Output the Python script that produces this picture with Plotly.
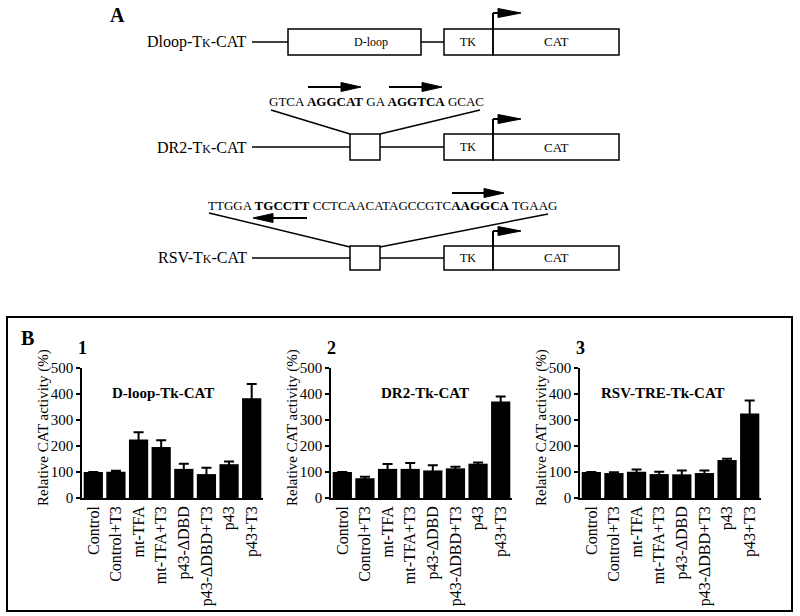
import plotly.graph_objects as go

# ---------------- data ----------------
categories = ["Control", "Control+T3", "mt-TFA", "mt-TFA+T3",
              "p43-ΔDBD", "p43-ΔDBD+T3", "p43", "p43+T3"]
dloop_values = [100, 101, 225, 196, 112, 92, 130, 384]
dloop_errors = [0, 4, 28, 26, 20, 24, 10, 54]
dr2_values = [100, 76, 112, 112, 106, 114, 132, 371]
dr2_errors = [0, 6, 19, 23, 20, 6, 5, 19]
rsv_values = [100, 96, 101, 92, 91, 96, 146, 325]
rsv_errors = [0, 3, 9, 9, 15, 10, 5, 50]
y_ticks = [0, 100, 200, 300, 400, 500]
panel_numbers = ["1", "2", "3"]
panel_titles = ["D-loop-Tk-CAT", "DR2-Tk-CAT", "RSV-TRE-Tk-CAT"]
y_title = "Relative CAT activity (%)"

W, H = 800, 616
FONT = "Liberation Serif"


def px(x):
    return x / W


def py(y):
    return 1 - y / H


fig = go.Figure()
shapes = []
annotations = []

# ---------------- panel B: bar charts ----------------
panels = [
    (dloop_values, dloop_errors, 82),
    (dr2_values, dr2_errors, 331),
    (rsv_values, rsv_errors, 580),
]
PW = 181
Y_TOP, Y_BOT = 368, 498
title_centers = [163, 425, 663]

for i, (vals, errs, x0) in enumerate(panels):
    k = "" if i == 0 else str(i + 1)
    fig.add_trace(go.Bar(
        x=categories, y=vals,
        marker=dict(color="black", line=dict(width=0)),
        error_y=dict(type="data", array=errs, visible=True, color="black",
                     thickness=2, width=5),
        xaxis="x" + k, yaxis="y" + k, showlegend=False,
    ))
    fig.update_layout(**{
        "xaxis" + k: dict(
            domain=[px(x0), px(x0 + PW)], anchor="y" + k,
            type="category", categoryorder="array", categoryarray=categories,
            range=[-0.5, 7.5], showline=True, linecolor="black", linewidth=1.5,
            ticks="", tickangle=-90, showgrid=False, automargin=False,
            tickfont=dict(family=FONT, size=16, color="black"),
        ),
        "yaxis" + k: dict(
            domain=[py(Y_BOT), py(Y_TOP)], anchor="x" + k,
            range=[0, 500], tickvals=y_ticks, showline=True, linecolor="black",
            linewidth=1.5, ticks="outside", ticklen=4, tickwidth=1.5,
            tickcolor="black", showgrid=False, zeroline=False, automargin=False,
            tickfont=dict(family=FONT, size=15, color="black"),
        ),
    })
    annotations.append(dict(x=px(x0), y=py(348), xref="paper", yref="paper",
                            text="<b>%s</b>" % panel_numbers[i], showarrow=False,
                            font=dict(family=FONT, size=18, color="black"),
                            xanchor="center", yanchor="middle"))
    annotations.append(dict(x=px(title_centers[i]), y=py(393), xref="paper", yref="paper",
                            text="<b>%s</b>" % panel_titles[i], showarrow=False,
                            font=dict(family=FONT, size=15, color="black"),
                            xanchor="center", yanchor="middle"))
    annotations.append(dict(x=px(x0 - 39), y=py(428), xref="paper", yref="paper",
                            text=y_title, showarrow=False, textangle=-90,
                            font=dict(family=FONT, size=15, color="black"),
                            xanchor="center", yanchor="middle"))

# panel B frame and label
shapes.append(dict(type="rect", xref="paper", yref="paper",
                   x0=px(7), x1=px(792), y0=py(611), y1=py(317),
                   line=dict(color="black", width=2)))
annotations.append(dict(x=px(27), y=py(338), xref="paper", yref="paper",
                        text="<b>B</b>", showarrow=False, xanchor="center",
                        yanchor="middle",
                        font=dict(family=FONT, size=20, color="black")))

# ---------------- panel A: construct diagrams ----------------
LW = 1.5


def line(x0, y0, x1, y1, w=LW):
    shapes.append(dict(type="line", xref="paper", yref="paper",
                       x0=px(x0), y0=py(y0), x1=px(x1), y1=py(y1),
                       line=dict(color="black", width=w)))


def rect(x0, y0, x1, y1):
    shapes.append(dict(type="rect", xref="paper", yref="paper",
                       x0=px(x0), y0=py(y1), x1=px(x1), y1=py(y0),
                       line=dict(color="black", width=LW)))


def head(tip_x, y, length, half, direction):
    bx = tip_x - direction * length
    path = "M %f %f L %f %f L %f %f Z" % (
        px(tip_x), py(y), px(bx), py(y - half), px(bx), py(y + half))
    shapes.append(dict(type="path", xref="paper", yref="paper", path=path,
                       fillcolor="black", line=dict(color="black", width=1)))


def harrow(x_tail, x_tip, y, hl=20, hh=4.5):
    d = 1 if x_tip > x_tail else -1
    line(x_tail, y, x_tip - d * hl, y, w=2)
    head(x_tip, y, hl, hh, d)


def text(x, y, s, size, xanchor="center"):
    annotations.append(dict(x=px(x), y=py(y), xref="paper", yref="paper",
                            text=s, showarrow=False, xanchor=xanchor, yanchor="middle",
                            font=dict(family=FONT, size=size, color="black")))


def promoter(x, box_top, top_y):
    line(x, box_top, x, top_y, w=2)
    line(x, top_y, x + 5, top_y, w=2)
    head(x + 28, top_y, 23, 4.5, 1)


def tk_cat(y0, y1):
    rect(444, y0, 493, y1)
    rect(493, y0, 619, y1)
    text(468, (y0 + y1) / 2, "TK", 12)
    text(556, (y0 + y1) / 2, "CAT", 13)


text(117, 15, "<b>A</b>", 20)

small_k = "T<span style='font-size:12px'>K</span>"

# Dloop-Tk-CAT
text(249, 42, "Dloop-" + small_k + "-CAT", 16, xanchor="right")
line(252, 42, 288, 42)
rect(288, 29, 421, 55)
text(371, 42, "D-loop", 12)
line(421, 42, 444, 42)
tk_cat(29, 55)
promoter(493, 29, 13)

# DR2-Tk-CAT
text(376, 101, "GTCA <b>AGGCAT</b> GA <b>AGGTCA</b> GCAC", 13)
harrow(308, 361, 87)
harrow(389, 442, 87)
line(271, 110, 350, 134)
line(480, 110, 380, 134)
text(249, 147, "DR2-" + small_k + "-CAT", 16, xanchor="right")
line(252, 147, 350, 147)
rect(350, 134, 380, 160)
line(380, 147, 444, 147)
tk_cat(134, 160)
promoter(493, 134, 119)

# RSV-Tk-CAT
text(382, 206, "TTGGA <b>TGCCTT</b> CCTCAACATAGCCGTC<b>AAGGCA</b> TGAAG", 13)
harrow(452, 504, 193)
harrow(307, 253, 218)
line(209, 213, 350, 247)
line(548, 214, 380, 247)
text(249, 258, "RSV-" + small_k + "-CAT", 16, xanchor="right")
line(252, 258, 350, 258)
rect(350, 246, 380, 270)
line(380, 258, 444, 258)
tk_cat(246, 270)
promoter(493, 246, 231)

fig.update_layout(
    width=W, height=H, margin=dict(l=0, r=0, t=0, b=0),
    paper_bgcolor="white", plot_bgcolor="rgba(0,0,0,0)",
    bargap=0.15, showlegend=False,
    shapes=shapes, annotations=annotations,
    font=dict(family=FONT, color="black"),
)

fig.write_html("out.html",
               config={"displayModeBar": False},
               post_script="document.body.style.margin='0px';document.body.style.overflow='hidden';")
